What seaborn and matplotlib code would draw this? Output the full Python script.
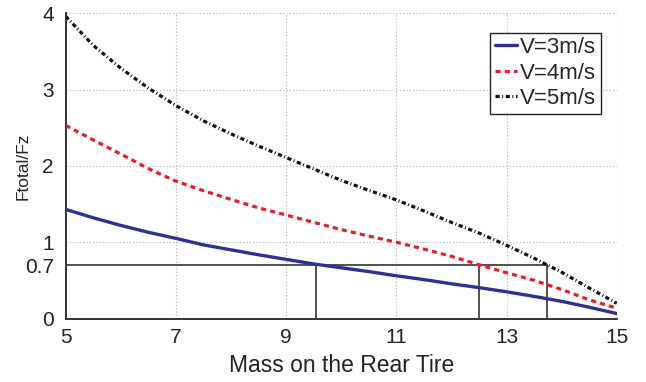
import matplotlib
matplotlib.use('Agg')
import matplotlib.pyplot as plt
import seaborn as sns
from matplotlib.ticker import MultipleLocator

# values
mass = [5, 5.5, 6, 6.5, 7, 7.5, 8, 8.5, 9, 9.5, 10,
        10.5, 11, 11.5, 12, 12.5, 13, 13.5, 14, 14.5, 15]
v3 = [1.43, 1.32, 1.22, 1.13, 1.05, 0.965, 0.90, 0.835, 0.775, 0.715, 0.665,
      0.615, 0.56, 0.51, 0.455, 0.405, 0.35, 0.29, 0.225, 0.148, 0.065]
v4 = [2.53, 2.34, 2.155, 1.965, 1.80, 1.675, 1.56, 1.45, 1.356, 1.26, 1.165,
      1.08, 1.00, 0.91, 0.815, 0.705, 0.60, 0.50, 0.38, 0.245, 0.135]
v5 = [3.96, 3.58, 3.28, 3.02, 2.79, 2.59, 2.42, 2.26, 2.11, 1.96, 1.81,
      1.68, 1.555, 1.41, 1.26, 1.12, 0.96, 0.79, 0.606, 0.40, 0.20]
labels = ['V=3m/s', 'V=4m/s', 'V=5m/s']

threshold = 0.7
cross_x = [9.54, 12.5, 13.73]

xticks = [5, 7, 9, 11, 13, 15]
yticks = [0, 0.7, 1, 2, 3, 4]
ytick_labels = ['0', '0.7', '1', '2', '3', '4']

sns.set_style('white')
plt.rcParams['font.family'] = ['Liberation Sans', 'DejaVu Sans']

fig = plt.figure(figsize=(6.46, 3.82), dpi=100)
ax = fig.add_axes([0.1017, 0.1662, 0.853, 0.799])

# dotted grid
for gx in xticks[1:]:
    ax.axvline(gx, color='#b0b0b0', lw=0.8, ls=(0, (1, 2)), zorder=0)
for gy in [1, 2, 3, 4]:
    ax.axhline(gy, color='#b0b0b0', lw=0.8, ls=(0, (1, 2)), zorder=0)

# threshold lines
ax.plot([5, max(cross_x)], [threshold, threshold], color='#333333', lw=1.2, zorder=2)
for cx in cross_x:
    ax.plot([cx, cx], [0, threshold], color='#333333', lw=1.2, zorder=2)

sns.lineplot(x=mass, y=v3, ax=ax, color='#2e3192', lw=2.4, label=labels[0], zorder=3)
sns.lineplot(x=mass, y=v4, ax=ax, color='#ed1c24', lw=2.3, linestyle=(0, (1.6, 1.3)),
             label=labels[1], zorder=3)
sns.lineplot(x=mass, y=v5, ax=ax, color='#111111', lw=2.3, linestyle=(0, (1.3, 0.8, 0.3, 0.8)),
             label=labels[2], zorder=3)

ax.set_xlim(5, 15)
ax.set_ylim(0, 4)
ax.set_xticks(xticks)
ax.xaxis.set_minor_locator(MultipleLocator(0.4))
ax.set_yticks(yticks)
ax.set_yticklabels(ytick_labels)
ax.tick_params(axis='both', which='major', direction='in', length=4, width=1,
               labelsize=15, colors='#222222')
ax.tick_params(axis='y', which='major', pad=8.5)
ax.tick_params(axis='x', which='major', pad=7)
ax.tick_params(axis='x', which='minor', direction='in', length=3, width=1, colors='#333333')

for s in ['top', 'right']:
    ax.spines[s].set_visible(False)
for s in ['left', 'bottom']:
    ax.spines[s].set_color('#333333')
    ax.spines[s].set_linewidth(1.4)

ax.set_xlabel('Mass on the Rear Tire', fontsize=16.5, color='#222222', labelpad=5)
ax.set_ylabel('Ftotal/Fz', fontsize=12.5, color='#222222', labelpad=-4)

leg = ax.legend(loc='upper right', bbox_to_anchor=(0.971, 0.936), fontsize=16,
                frameon=True, fancybox=False, borderaxespad=0, handlelength=1.0,
                handletextpad=0.15, labelspacing=0.2, borderpad=0.2)
leg.get_frame().set_edgecolor('#222222')
leg.get_frame().set_linewidth(1.0)
leg.get_frame().set_alpha(1)

fig.savefig('out.png', dpi=100)
